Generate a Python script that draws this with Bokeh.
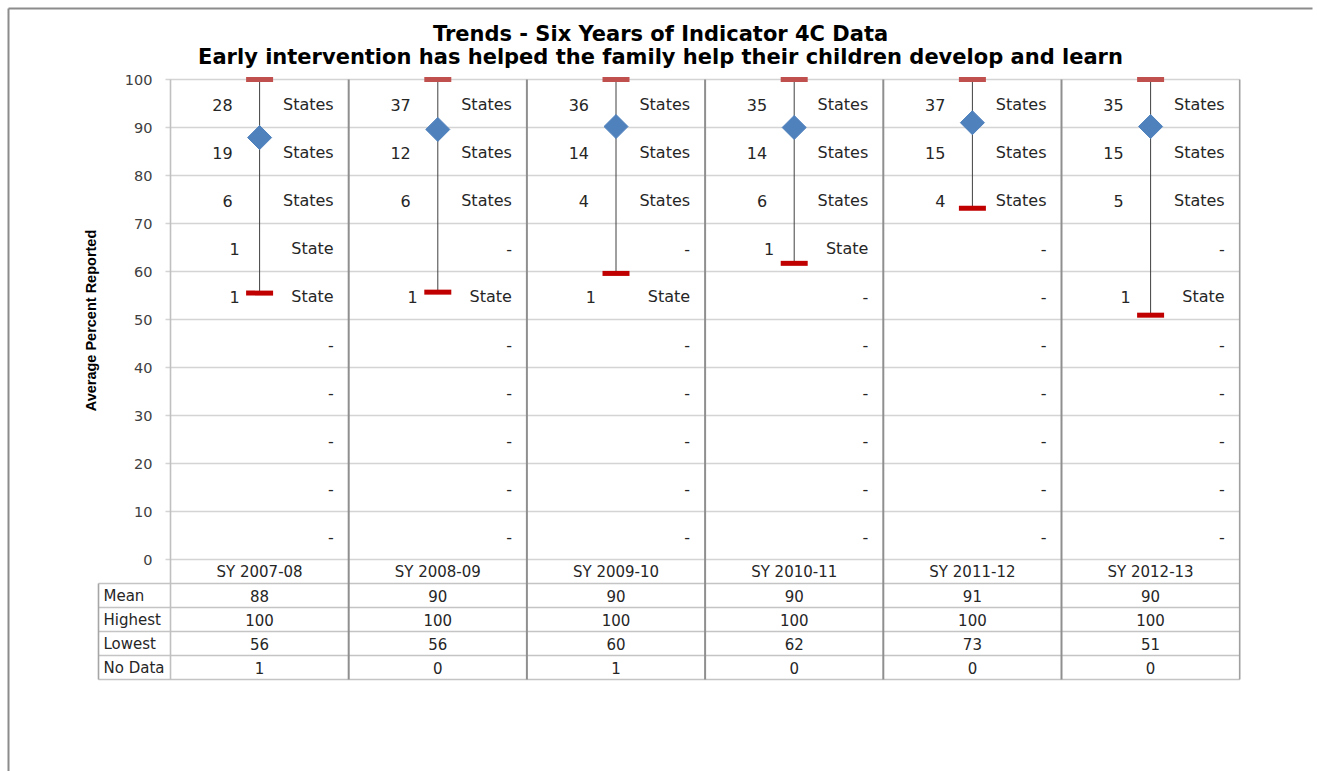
import math
from bokeh.plotting import figure
from bokeh.models import ColumnDataSource, Range1d
from bokeh.core.properties import value
from bokeh.embed import file_html
from bokeh.resources import INLINE

# ---------------- data ----------------
years = ["SY 2007-08", "SY 2008-09", "SY 2009-10", "SY 2010-11", "SY 2011-12", "SY 2012-13"]
mean_pct = [87.9, 89.6, 90.2, 90.0, 91.0, 90.2]
highest_pct = [100, 100, 100, 100, 100, 100]
lowest_pct = [55.5, 55.7, 59.6, 61.7, 73.2, 50.9]

# table rows
mean_row = [88, 90, 90, 90, 91, 90]
highest_row = [100, 100, 100, 100, 100, 100]
lowest_row = [56, 56, 60, 62, 73, 51]
nodata_row = [1, 0, 1, 0, 0, 0]
row_names = ["Mean", "Highest", "Lowest", "No Data"]

# number of states per 10-point band (90-100, 80-90, ..., 0-10)
band_low = [90, 80, 70, 60, 50, 40, 30, 20, 10, 0]
counts_0708 = [28, 19, 6, 1, 1, 0, 0, 0, 0, 0]
counts_0809 = [37, 12, 6, 0, 1, 0, 0, 0, 0, 0]
counts_0910 = [36, 14, 4, 0, 1, 0, 0, 0, 0, 0]
counts_1011 = [35, 14, 6, 1, 0, 0, 0, 0, 0, 0]
counts_1112 = [37, 15, 4, 0, 0, 0, 0, 0, 0, 0]
counts_1213 = [35, 15, 5, 0, 1, 0, 0, 0, 0, 0]
all_counts = [counts_0708, counts_0809, counts_0910, counts_1011, counts_1112, counts_1213]

y_ticks = [0, 10, 20, 30, 40, 50, 60, 70, 80, 90, 100]

title1 = "Trends - Six Years of Indicator 4C Data"
title2 = "Early intervention has helped the family help their children develop and learn"
y_label = "Average Percent Reported"

# ---------------- layout ----------------
W, H = 1317, 771
PXX = 178.2      # pixels per column
PXY = 4.8        # pixels per percent point
X0_PX, Y0_PX = 170, 559   # canvas position of (0, 0)


def dx(px):
    return (px - X0_PX) / PXX


def dy(px):
    return (Y0_PX - px) / PXY


XMIN, XMAX = dx(0), dx(W)
YMIN, YMAX = dy(H), dy(0)
ROW_H = 5        # table row height in y units
NCOL = len(years)
TAB_LEFT = dx(98)
TAB_BOTTOM = -ROW_H * (len(row_names) + 1)

FONT = value("DejaVu Sans")
TXT = "#262626"

p = figure(width=W, height=H, x_range=Range1d(XMIN, XMAX), y_range=Range1d(YMIN, YMAX),
           x_axis_type=None, y_axis_type=None, min_border=0, toolbar_location=None,
           output_backend="svg", title=None)
p.outline_line_color = None
p.background_fill_color = "white"
p.border_fill_color = "white"

# outer chart border (top and left visible)
p.segment(x0=[dx(8), dx(8)], y0=[dy(8), dy(8)], x1=[dx(1312), dx(8)], y1=[dy(8), YMIN],
          line_color="#8C8C8C", line_width=2)

# horizontal gridlines + ticks
tick = 5 / PXX
p.segment(x0=[-tick] * len(y_ticks), y0=y_ticks, x1=[NCOL] * len(y_ticks), y1=y_ticks,
          line_color="#D4D4D4", line_width=1.6)

# table horizontal lines
tab_y = [-ROW_H * k for k in range(1, len(row_names) + 2)]
p.segment(x0=[TAB_LEFT] * len(tab_y), y0=tab_y, x1=[NCOL] * len(tab_y), y1=tab_y,
          line_color="#C4C4C4", line_width=1.6)
p.segment(x0=[TAB_LEFT], y0=[-ROW_H], x1=[TAB_LEFT], y1=[TAB_BOTTOM],
          line_color="#A6A6A6", line_width=1.6)

# vertical borders
p.segment(x0=[0], y0=[100], x1=[0], y1=[TAB_BOTTOM], line_color="#C0C0C0", line_width=1.6)
seps = list(range(1, NCOL))
p.segment(x0=seps, y0=[100] * len(seps), x1=seps, y1=[TAB_BOTTOM] * len(seps),
          line_color="#8F8F8F", line_width=2)
p.segment(x0=[NCOL], y0=[100], x1=[NCOL], y1=[TAB_BOTTOM], line_color="#A0A0A0", line_width=1.6)

# y tick labels
p.text(x=[0] * len(y_ticks), y=y_ticks, text=[str(t) for t in y_ticks], x_offset=-18,
       text_align="right", text_baseline="middle", text_font=FONT, text_font_size="14.5px",
       text_color="#404040")

# y axis label
p.text(x=[dx(90)], y=[dy(320)], text=[y_label], angle=math.pi / 2,
       text_align="center", text_baseline="middle", text_font=value("Liberation Sans"),
       text_font_style="bold", text_font_size="14.5px", text_color="#000000")

# titles
p.text(x=[dx(660)] * 2, y=[dy(33), dy(56)], text=[title1, title2],
       text_align="center", text_baseline="middle", text_font=FONT, text_font_style="bold",
       text_font_size="21px", text_color="#000000")

# high-low whiskers
centers = [i + 0.5 for i in range(NCOL)]
src = ColumnDataSource(dict(x=centers, mean=mean_pct, hi=highest_pct, lo=lowest_pct))
p.segment(x0="x", y0="lo", x1="x", y1="hi", source=src, line_color="#404040", line_width=1)
p.rect(x="x", y="hi", width=27, height=5, width_units="screen", height_units="screen",
       source=src, fill_color="#C0504D", line_color=None)
p.rect(x="x", y="lo", width=27, height=5, width_units="screen", height_units="screen",
       source=src, fill_color="#C00000", line_color=None)
p.scatter(x="x", y="mean", source=src, marker="square", angle=math.pi / 4, size=17,
          fill_color="#4F81BD", line_color="#4F81BD")

# band labels
num_x, num_y, num_t, num_off = [], [], [], []
word_x, word_y, word_t = [], [], []
for i, counts in enumerate(all_counts):
    for lo, c in zip(band_low, counts):
        mid = lo + 5
        word_x.append(i + 1)
        word_y.append(mid)
        if c == 0:
            word_t.append("-")
        else:
            word_t.append("State" if c == 1 else "States")
            num_x.append(i + 0.5)
            num_y.append(mid)
            num_t.append(str(c))
            num_off.append(-20 if c == 1 else -27)
p.text(x=num_x, y=num_y, text=num_t, x_offset=num_off, y_offset=1, text_align="right",
       text_baseline="middle", text_font=FONT, text_font_size="16px", text_color=TXT)
p.text(x=word_x, y=word_y, text=word_t, x_offset=-15, y_offset=1, text_align="right",
       text_baseline="middle", text_font=FONT, text_font_size="16px", text_color=TXT)

# table: header
p.text(x=centers, y=[-ROW_H / 2] * NCOL, text=years, text_align="center", text_baseline="middle",
       text_font=FONT, text_font_size="15px", text_color=TXT)
rows = [mean_row, highest_row, lowest_row, nodata_row]
for k, (name, vals) in enumerate(zip(row_names, rows)):
    yc = -ROW_H * (k + 1.5)
    p.text(x=[TAB_LEFT], y=[yc], text=[name], x_offset=5, text_align="left",
           text_baseline="middle", text_font=FONT, text_font_size="15px", text_color=TXT)
    p.text(x=centers, y=[yc] * NCOL, text=[str(v) for v in vals], text_align="center",
           text_baseline="middle", text_font=FONT, text_font_size="15px", text_color=TXT)

open("out.html", "w").write(file_html(p, INLINE))
